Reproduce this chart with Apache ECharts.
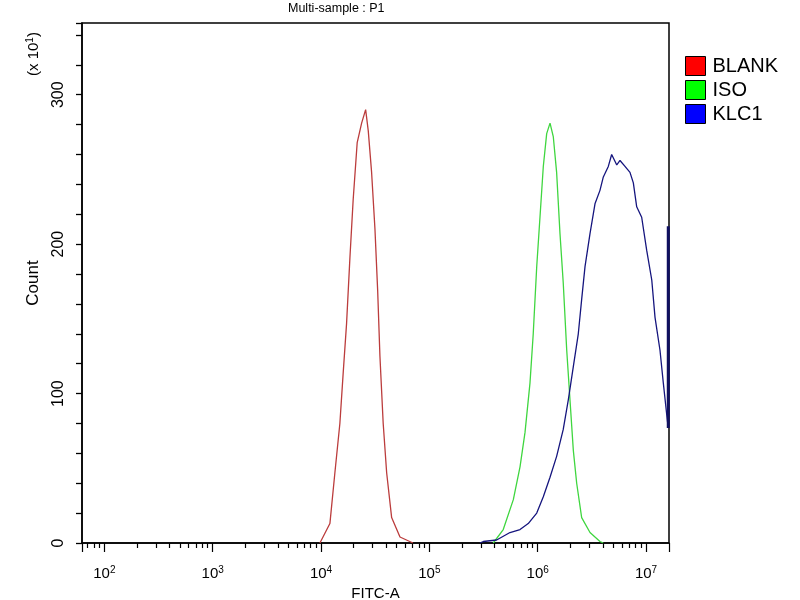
<!DOCTYPE html>
<html>
<head>
<meta charset="utf-8">
<script src="https://cdn.jsdelivr.net/npm/echarts@6/dist/echarts.min.js"></script>
<style>
  html, body { margin: 0; padding: 0; background: #fff; }
  #main { width: 800px; height: 600px; }
</style>
</head>
<body>
<div id="main"></div>
<script>
// FITC-A intensity / count (x10)
const blankX = [9770, 12080, 13430, 14930, 16030, 17220, 18490, 19820, 21580, 23710, 25820,
  27290, 29310, 31480, 33340, 34990, 37500, 40360, 44870, 53580, 70630];
const blankY = [0, 13, 47, 80, 114, 147, 191, 230, 268, 281, 290,
  276, 248, 210, 169, 125, 80, 47, 17, 4, 0];

const isoX = [389000, 481000, 596000, 687000, 764000, 849000, 910000, 980000, 1050000, 1127000,
  1211000, 1300000, 1393000, 1496000, 1607000, 1722000, 1854000, 1986000, 2133000, 2291000,
  2547000, 3041000, 3758000, 4036000];
const isoY = [0, 9, 29, 51, 74, 107, 140, 185, 218, 252,
  274, 281, 272, 248, 207, 174, 129, 96, 62, 40,
  17, 7, 1, 0];

const klcX = [293000, 315000, 418000, 555000, 687000, 818000, 980000, 1127000, 1300000, 1496000,
  1722000, 1919000, 2133000, 2371000, 2547000, 2735000, 3041000, 3381000, 3758000, 4036000,
  4487000, 4819000, 5370000, 5754000, 6397000, 7112000, 7638000, 8204000, 9120000, 10140000,
  11300000, 12110000, 13460000, 14450000, 15740000, 16050000];
const klcY = [0, 1, 2, 7, 9, 13, 20, 31, 44, 58,
  76, 96, 118, 140, 163, 185, 207, 227, 236, 245,
  252, 260, 253, 256, 252, 248, 241, 225, 218, 196,
  176, 151, 129, 107, 82, 77];
// last channel (off-scale events) piled up on the right edge
const klcEdgeX = [16050000, 16050000];
const klcEdgeY = [77, 212];

const names = ['BLANK', 'ISO', 'KLC1'];
const lineColors = ['#bb3c3c', '#3fd63f', '#15157e'];
const legendColors = ['#ff0000', '#00ff00', '#0000ff'];

const xMin = 62.2, xMax = 16300000;
const xMajor = [xMin, 100, 1e3, 1e4, 1e5, 1e6, 1e7, xMax];
const xLabels = [100, 1e3, 1e4, 1e5, 1e6, 1e7];
let xMinor = [70, 80, 90];
[100, 1e3, 1e4, 1e5, 1e6].forEach(d => {
    for (let k = 2; k <= 9; k++) xMinor.push(k * d);
});
const yLabels = [0, 100, 200, 300];

const pairs = (xs, ys) => xs.map((x, i) => [x, ys[i]]);

let chart = echarts.init(document.getElementById('main'));
const font = 'Liberation Sans, Arial, sans-serif';

let series = [
    { name: names[0], data: pairs(blankX, blankY) },
    { name: names[1], data: pairs(isoX, isoY) },
    { name: names[2], data: pairs(klcX, klcY) }
].map((s, i) => ({
    ...s,
    type: 'line',
    showSymbol: false,
    itemStyle: { color: lineColors[i] },
    lineStyle: { color: lineColors[i], width: 1.3 }
}));
series.push({
    name: names[2] + ' edge',
    type: 'line',
    showSymbol: false,
    data: pairs(klcEdgeX, klcEdgeY),
    lineStyle: { color: '#101060', width: 3 }
});

chart.setOption({
    animation: false,
    textStyle: { fontFamily: font },
    title: {
        text: 'Multi-sample : P1',
        left: 288,
        top: 2,
        padding: 0,
        textStyle: { fontSize: 12.5, fontWeight: 'normal', color: '#000', fontFamily: font }
    },
    legend: {
        orient: 'vertical',
        left: 685,
        top: 56,
        itemWidth: 20,
        itemHeight: 19,
        itemGap: 4,
        padding: 0,
        icon: 'rect',
        textStyle: { fontSize: 20, color: '#000', fontFamily: font, padding: [0, 0, 0, 2] },
        data: names.map((n, i) => ({
            name: n,
            itemStyle: { color: legendColors[i], borderColor: '#000', borderWidth: 1 }
        }))
    },
    grid: {
        left: 82, right: 131, top: 23, bottom: 57,
        containLabel: false, outerBoundsMode: 'none',
        show: true, borderColor: '#000', borderWidth: 1.5
    },
    xAxis: [
        {
            type: 'log', logBase: 10, min: xMin, max: xMax,
            name: 'FITC-A', nameLocation: 'middle', nameGap: 40,
            nameTextStyle: { fontSize: 15, color: '#000', fontFamily: font },
            axisLine: { lineStyle: { color: '#000', width: 1.5 } },
            axisTick: { customValues: xMajor, length: 9, lineStyle: { color: '#000', width: 1.2 } },
            axisLabel: {
                customValues: xLabels, margin: 22, color: '#000', fontSize: 15,
                formatter: v => '10{s|' + Math.round(Math.log10(v)) + '}',
                rich: { s: { fontSize: 10, verticalAlign: 'top', padding: [0, 0, 8, 0], color: '#000' } }
            },
            splitLine: { show: false }
        },
        {
            type: 'log', logBase: 10, min: xMin, max: xMax, position: 'bottom',
            axisLine: { show: false },
            axisTick: { customValues: xMinor, length: 5, lineStyle: { color: '#000', width: 1.2 } },
            axisLabel: { show: false },
            splitLine: { show: false }
        }
    ],
    yAxis: {
        type: 'value', min: 0, max: 348, interval: 20,
        name: 'Count', nameLocation: 'middle', nameGap: 40, nameRotate: 90,
        nameTextStyle: { fontSize: 17, color: '#000', fontFamily: font },
        axisLine: { lineStyle: { color: '#000', width: 1.5 } },
        axisTick: { show: true, length: 6, lineStyle: { color: '#000', width: 1.3 } },
        axisLabel: { customValues: yLabels, rotate: 90, margin: 15, color: '#000', fontSize: 16 },
        splitLine: { show: false }
    },
    graphic: [{
        type: 'text',
        x: 25, y: 76,
        rotation: Math.PI / 2,
        style: {
            text: '(x 10{s|1})',
            fontSize: 15, fill: '#000', fontFamily: font,
            rich: { s: { fontSize: 10, verticalAlign: 'top', padding: [0, 0, 7, 0], fill: '#000' } }
        }
    }],
    series: series
});
</script>
</body>
</html>
